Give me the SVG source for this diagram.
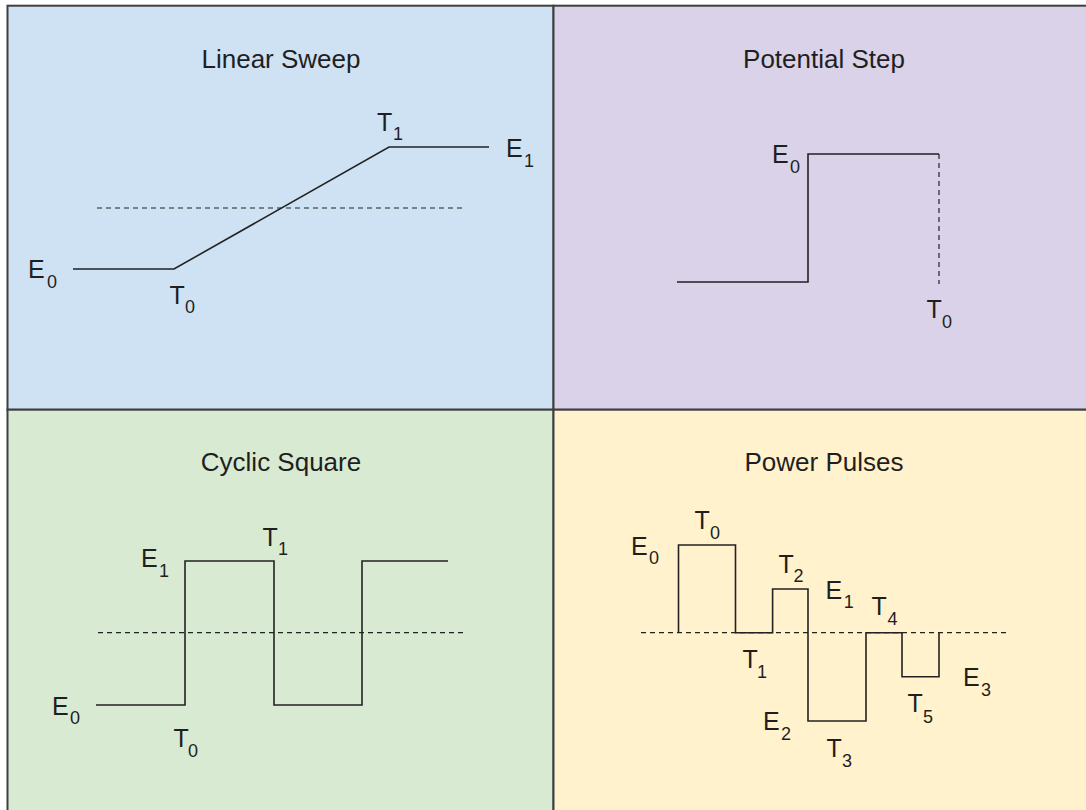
<svg xmlns="http://www.w3.org/2000/svg" width="1086" height="810" viewBox="0 0 1086 810">
<style>
.panel{stroke:#3f3f3f;stroke-width:2}
.title{font-family:"Liberation Sans",Arial,sans-serif;font-size:26px;fill:#1f1f1f;text-anchor:middle}
.lbl{font-family:"Liberation Sans",Arial,sans-serif;font-size:25px;fill:#1f1f1f}
.sub{font-size:18px}
.wave{fill:none;stroke:#222;stroke-width:1.6;stroke-linejoin:miter}
.dash{fill:none;stroke:#222;stroke-width:1.2;stroke-dasharray:5 4}
</style>
<g id="panel-linear-sweep">
<rect class="panel" x="7.5" y="5.7" width="546" height="404" fill="#cfe2f3"/>
<text class="title" x="281" y="68">Linear Sweep</text>
</g>
<g id="panel-potential-step">
<rect class="panel" x="553.5" y="5.7" width="540" height="404" fill="#d9d2e9"/>
<text class="title" x="824" y="68">Potential Step</text>
</g>
<g id="panel-cyclic-square">
<rect class="panel" x="7.5" y="409.7" width="546" height="410" fill="#d9ead3"/>
<text class="title" x="281" y="471">Cyclic Square</text>
</g>
<g id="panel-power-pulses">
<rect class="panel" x="553.5" y="409.7" width="540" height="410" fill="#fff2cc"/>
<text class="title" x="824" y="471">Power Pulses</text>
</g>
<g id="connectors">
<!-- Linear Sweep -->
<line class="dash" x1="97" y1="208" x2="466" y2="208"/>
<polyline class="wave" points="73,269 174,269 389,147 489,147"/>
<!-- Potential Step -->
<polyline class="wave" points="677,282 808,282 808,154 939,154"/>
<line class="dash" x1="939" y1="154" x2="939" y2="284"/>
<!-- Cyclic Square -->
<line class="dash" x1="98" y1="632.7" x2="463" y2="632.7"/>
<polyline class="wave" points="96,705 185,705 185,561 274,561 274,705 362,705 362,561 448,561"/>
<!-- Power Pulses -->
<line class="dash" x1="641" y1="632.7" x2="1006" y2="632.7"/>
<polyline class="wave" points="678.5,632.7 678.5,545 735.5,545 735.5,632.7 772.6,632.7 772.6,589 808,589 808,721 866,721 866,632.7 902,632.7 902,676.7 939,676.7 939,632.7"/>
</g>
<g id="labels-linear-sweep">
<text class="lbl" x="28" y="278">E<tspan class="sub" x="47" y="288">0</tspan></text>
<text class="lbl" x="169.5" y="304">T<tspan class="sub" x="185" y="313">0</tspan></text>
<text class="lbl" x="377" y="131">T<tspan class="sub" x="393" y="140">1</tspan></text>
<text class="lbl" x="506" y="156.7">E<tspan class="sub" x="524" y="166.7">1</tspan></text>
</g>
<g id="labels-potential-step">
<text class="lbl" x="772" y="163">E<tspan class="sub" x="790" y="173">0</tspan></text>
<text class="lbl" x="926.5" y="318">T<tspan class="sub" x="942" y="328">0</tspan></text>
</g>
<g id="labels-cyclic-square">
<text class="lbl" x="141" y="566.7">E<tspan class="sub" x="159" y="577">1</tspan></text>
<text class="lbl" x="262.5" y="545.7">T<tspan class="sub" x="278" y="555">1</tspan></text>
<text class="lbl" x="52" y="715">E<tspan class="sub" x="70" y="724">0</tspan></text>
<text class="lbl" x="173.5" y="747">T<tspan class="sub" x="188" y="757">0</tspan></text>
</g>
<g id="labels-power-pulses">
<text class="lbl" x="631" y="555">E<tspan class="sub" x="649" y="564">0</tspan></text>
<text class="lbl" x="694.5" y="529">T<tspan class="sub" x="710" y="539">0</tspan></text>
<text class="lbl" x="778.5" y="572.7">T<tspan class="sub" x="793.5" y="582">2</tspan></text>
<text class="lbl" x="825.6" y="599">E<tspan class="sub" x="843.7" y="608">1</tspan></text>
<text class="lbl" x="871.5" y="615">T<tspan class="sub" x="887.5" y="625">4</tspan></text>
<text class="lbl" x="742.5" y="668">T<tspan class="sub" x="757" y="677.7">1</tspan></text>
<text class="lbl" x="963" y="686">E<tspan class="sub" x="981" y="696">3</tspan></text>
<text class="lbl" x="907.5" y="712">T<tspan class="sub" x="923" y="723">5</tspan></text>
<text class="lbl" x="763" y="730">E<tspan class="sub" x="781" y="740">2</tspan></text>
<text class="lbl" x="826.5" y="757">T<tspan class="sub" x="842" y="767">3</tspan></text>
</g>
</svg>
